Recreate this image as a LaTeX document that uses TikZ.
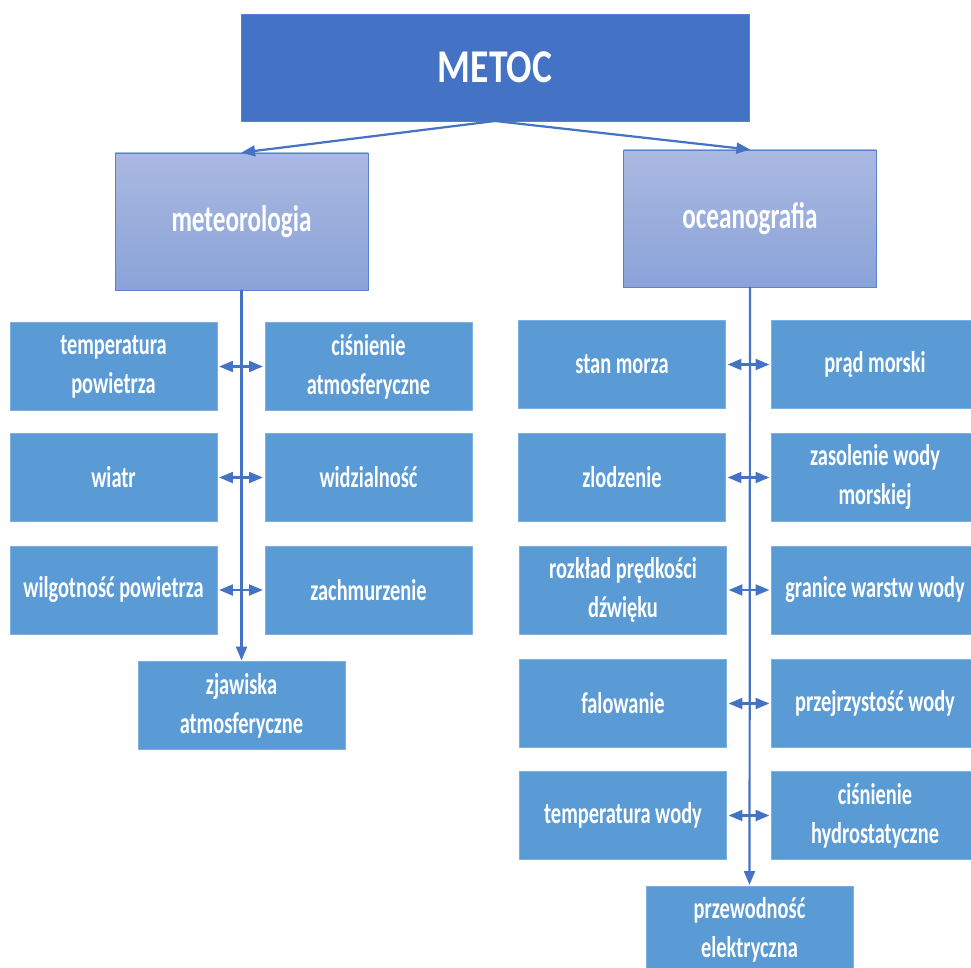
\documentclass[tikz,border=0pt]{standalone}
\usepackage{fontspec}
\setmainfont{Carlito}[FakeStretch=0.68]
\newfontfamily\metocfont{Carlito}[FakeStretch=0.8]
\usepackage{tikz}
\usetikzlibrary{arrows}
\definecolor{ciemny}{HTML}{4472C4}
\definecolor{ramka}{HTML}{5A80CF}
\definecolor{gora}{HTML}{AAB9E1}
\definecolor{dol}{HTML}{8AA3D8}
\definecolor{pole}{HTML}{5B9BD5}
\definecolor{pramka}{HTML}{7DB0E0}

\begin{document}
\begin{tikzpicture}[line cap=round,line join=round,>=triangle 45,x=1pt,y=-1pt,
	glowny/.style={draw=ramka,fill=ciemny,line width=0.8pt,minimum width=508pt,minimum height=107pt,text=white,font=\metocfont\fontsize{47}{52}\selectfont\bfseries},
	dzial/.style={draw=ramka,top color=gora,bottom color=dol,line width=0.8pt,minimum width=253pt,minimum height=137pt,text=white,font=\fontsize{37}{40}\selectfont\bfseries},
	pozycja/.style={draw=pramka,fill=pole,line width=0.6pt,minimum width=207pt,minimum height=88pt,text=white,align=center,font=\fontsize{30}{39}\selectfont\bfseries},
	laczenie/.style={ciemny,line width=2.2pt}]
					\useasboundingbox (0,0) rectangle (971,968);
					
					\node[glowny] (metoc) at (495,67.5) {METOC};
					\node[dzial] (meteo) at (241.5,221.5) {meteorologia};
					\node[dzial] (ocean) at (750,218.5) {oceanografia};
					
					\coordinate (rozgal) at (495,121);
					\draw[laczenie,->] (rozgal) -- (meteo.north);
					\draw[laczenie,->] (rozgal) -- (ocean.north);
					
					% meteorologia
					\node[pozycja] (tpow) at (113.5,366.5) {temperatura\\powietrza};
					\node[pozycja] (cisat) at (368.5,366.5) {ciśnienie\\atmosferyczne};
					\node[pozycja] (wiatr) at (113.5,477.5) {wiatr};
					\node[pozycja] (widz) at (368.5,477.5) {widzialność};
					\node[pozycja] (wilg) at (113.5,590) {wilgotność powietrza};
					\node[pozycja] (zachm) at (368.5,590) {zachmurzenie};
					\node[pozycja] (zjaw) at (241.5,705.5) {zjawiska\\atmosferyczne};
					
					\draw[laczenie,->,shorten >=1pt] (meteo.south) -- (zjaw.north);
					\foreach \a/\b in {tpow/cisat,wiatr/widz,wilg/zachm}
					\draw[laczenie,<->,shorten >=2pt,shorten <=2pt] (\a.east) -- (\b.west);
					
					% oceanografia
					\node[pozycja] (stan) at (622,364.5) {stan morza};
					\node[pozycja] (prad) at (875,364.5) {prąd morski};
					\node[pozycja] (zlod) at (622,477.5) {zlodzenie};
					\node[pozycja] (zas) at (875,477.5) {zasolenie wody\\morskiej};
					\node[pozycja] (rozk) at (623,590) {rozkład prędkości\\dźwięku};
					\node[pozycja] (gran) at (875,590) {granice warstw wody};
					\node[pozycja] (fal) at (623,703.5) {falowanie};
					\node[pozycja] (przej) at (875,703.5) {przejrzystość wody};
					\node[pozycja] (twod) at (623,815.5) {temperatura wody};
					\node[pozycja] (chydr) at (875,815.5) {ciśnienie\\hydrostatyczne};
					\node[pozycja] (przew) at (749.5,930) {przewodność\\elektryczna};
					
					\draw[laczenie,->,shorten >=1pt] (ocean.south) -- (przew.north);
					\foreach \a/\b in {stan/prad,zlod/zas,rozk/gran,fal/przej,twod/chydr}
					\draw[laczenie,<->,shorten >=2pt,shorten <=2pt] (\a.east) -- (\b.west);
				\end{tikzpicture}
\end{document}
